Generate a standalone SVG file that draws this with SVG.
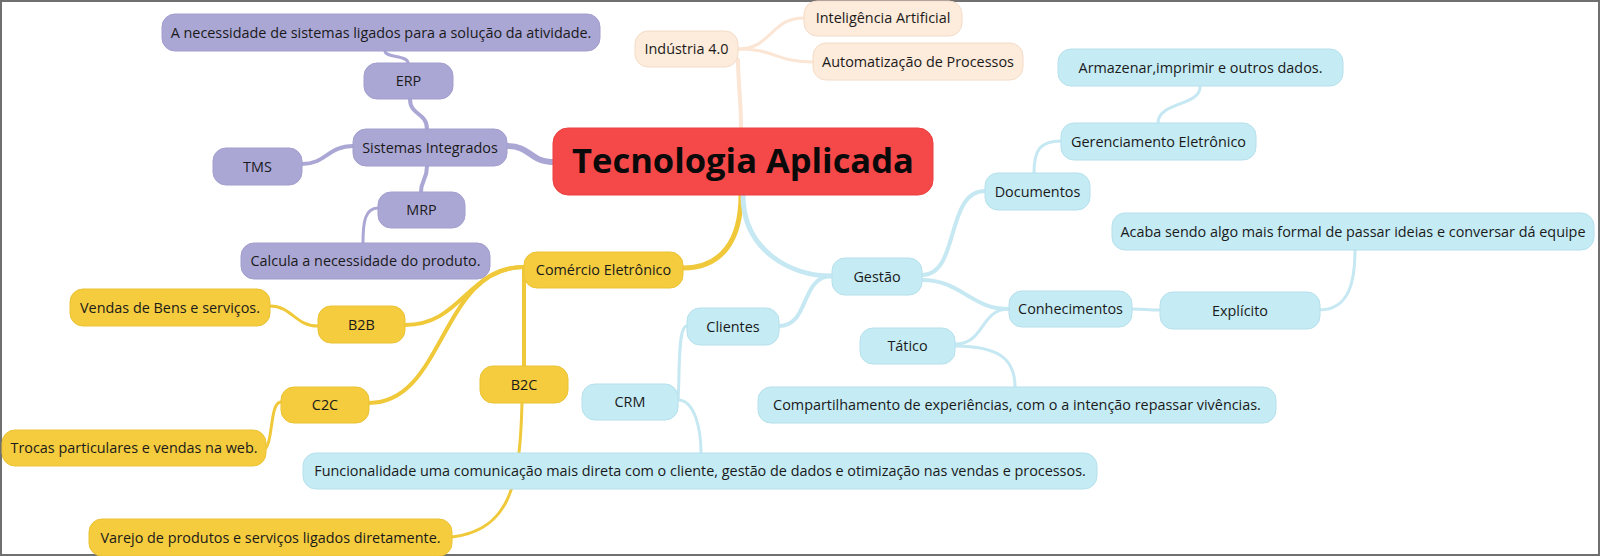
<svg xmlns="http://www.w3.org/2000/svg" width="1600" height="556" viewBox="0 0 1600 556">
<style>
text{font-family:"Open Sans","Noto Sans","DejaVu Sans",sans-serif;font-size:14.4px;fill:#1a1a1a;text-anchor:middle}
.p rect{fill:#aba7d5;stroke:#a29ecd;stroke-width:1}
.o rect{fill:#fdebdb;stroke:#f4dcc8;stroke-width:1}
.c rect{fill:#c5ecf5;stroke:#b5e0ec;stroke-width:1}
.y rect{fill:#f4cc3e;stroke:#eac235;stroke-width:1}
.r rect{fill:#f54849;stroke:#ea4040;stroke-width:1}
.r text{font-size:34.5px;font-weight:bold;fill:#0a0a0a}
#connectors path{fill:none;stroke-linecap:round}
.lp{stroke:#aba7d5}
.lo{stroke:#fbe5d4}
.lc{stroke:#c5e8f2}
.ly{stroke:#f0c93a}
</style>
<rect x="1" y="1" width="1598" height="554" fill="#ffffff" stroke="#707070" stroke-width="2"/>
<g id="connectors">
<path class="lp" stroke-width="6" d="M507,146 C532,146 528,162 555,162"/>
<path class="lp" stroke-width="4" d="M427,129 C427,112 410,116 410,99"/>
<path class="lp" stroke-width="3" d="M408,63 C408,55 385,58 385,51"/>
<path class="lp" stroke-width="4" d="M353,146 C328,146 326,164 302,164"/>
<path class="lp" stroke-width="4" d="M427,166 C427,180 421,180 421,192"/>
<path class="lp" stroke-width="3" d="M378,208 C365,208 363,222 363,243"/>
<path class="lo" stroke-width="4" d="M741,128 C741,100 738,80 738,60"/>
<path class="lo" stroke-width="3" d="M738,49 C772,49 770,18 804,18"/>
<path class="lo" stroke-width="3" d="M738,49 C776,49 776,62 813,62"/>
<path class="ly" stroke-width="5" d="M741,195 C741,240 722,268 683,268"/>
<path class="ly" stroke-width="4" d="M524,267 C468,267 462,325 405,325"/>
<path class="ly" stroke-width="4" d="M524,267 C440,267 445,403 369,403"/>
<path class="ly" stroke-width="4" d="M524,270 L524,366"/>
<path class="ly" stroke-width="3" d="M522,403 C520,480 512,530 452,537"/>
<path class="ly" stroke-width="3" d="M318,326 C295,326 292,306 270,306"/>
<path class="ly" stroke-width="3" d="M281,402 C270,402 273,440 266,448"/>
<path class="lc" stroke-width="5" d="M743,195 C743,250 790,276 832,276"/>
<path class="lc" stroke-width="4" d="M922,275 C960,275 945,191 985,191"/>
<path class="lc" stroke-width="4" d="M922,280 C962,280 970,309 1009,309"/>
<path class="lc" stroke-width="4" d="M832,276 C800,276 810,326 779,326"/>
<path class="lc" stroke-width="3" d="M1034,173 C1034,150 1040,141 1061,141"/>
<path class="lc" stroke-width="3" d="M1158,123 C1158,102 1200,106 1200,87"/>
<path class="lc" stroke-width="3" d="M1132,309 C1146,309 1146,310 1160,310"/>
<path class="lc" stroke-width="3" d="M1319,310 C1350,310 1355,280 1355,250"/>
<path class="lc" stroke-width="3" d="M1009,309 C980,309 985,344 955,344"/>
<path class="lc" stroke-width="3" d="M955,346 C1000,346 1015,360 1015,387"/>
<path class="lc" stroke-width="3" d="M687,326 C677,326 680,380 678,400"/>
<path class="lc" stroke-width="3" d="M678,400 C695,400 701,430 701,453"/>
</g>
<g id="root" class="r"><rect x="553" y="128" width="380" height="67" rx="15"/><text x="743" y="173">Tecnologia Aplicada</text></g>
<g id="n-necessidade" class="p"><rect x="162" y="14" width="438" height="37" rx="13"/><text x="381" y="38">A necessidade de sistemas ligados para a solução da atividade.</text></g>
<g id="n-erp" class="p"><rect x="364" y="63" width="89" height="36" rx="13"/><text x="408.5" y="86">ERP</text></g>
<g id="n-sistemas" class="p"><rect x="353" y="129" width="154" height="37" rx="13"/><text x="430" y="153">Sistemas Integrados</text></g>
<g id="n-tms" class="p"><rect x="213" y="148" width="89" height="37" rx="13"/><text x="257.5" y="172">TMS</text></g>
<g id="n-mrp" class="p"><rect x="378" y="192" width="87" height="36" rx="13"/><text x="421.5" y="215">MRP</text></g>
<g id="n-calcula" class="p"><rect x="241" y="243" width="249" height="36" rx="13"/><text x="365.5" y="266">Calcula a necessidade do produto.</text></g>
<g id="n-industria" class="o"><rect x="635" y="31" width="103" height="36" rx="13"/><text x="686.5" y="54">Indústria 4.0</text></g>
<g id="n-ia" class="o"><rect x="804" y="1" width="158" height="35" rx="13"/><text x="883" y="23">Inteligência Artificial</text></g>
<g id="n-automatizacao" class="o"><rect x="813" y="43" width="210" height="37" rx="13"/><text x="918" y="67">Automatização de Processos</text></g>
<g id="n-armazenar" class="c"><rect x="1058" y="49" width="285" height="37" rx="13"/><text x="1200.5" y="73">Armazenar,imprimir e outros dados.</text></g>
<g id="n-gerenciamento" class="c"><rect x="1061" y="123" width="195" height="37" rx="13"/><text x="1158.5" y="147">Gerenciamento Eletrônico</text></g>
<g id="n-documentos" class="c"><rect x="985" y="173" width="105" height="37" rx="13"/><text x="1037.5" y="197">Documentos</text></g>
<g id="n-acaba" class="c"><rect x="1112" y="213" width="482" height="37" rx="13"/><text x="1353" y="237">Acaba sendo algo mais formal de passar ideias e conversar dá equipe</text></g>
<g id="n-gestao" class="c"><rect x="832" y="258" width="90" height="37" rx="13"/><text x="877" y="282">Gestão</text></g>
<g id="n-conhecimentos" class="c"><rect x="1009" y="291" width="123" height="36" rx="13"/><text x="1070.5" y="314">Conhecimentos</text></g>
<g id="n-explicito" class="c"><rect x="1160" y="292" width="160" height="37" rx="13"/><text x="1240" y="316">Explícito</text></g>
<g id="n-clientes" class="c"><rect x="687" y="308" width="92" height="37" rx="13"/><text x="733" y="332">Clientes</text></g>
<g id="n-tatico" class="c"><rect x="860" y="328" width="95" height="36" rx="13"/><text x="907.5" y="351">Tático</text></g>
<g id="n-crm" class="c"><rect x="582" y="384" width="96" height="36" rx="13"/><text x="630" y="407">CRM</text></g>
<g id="n-compartilhamento" class="c"><rect x="758" y="387" width="518" height="36" rx="13"/><text x="1017" y="410">Compartilhamento de experiências, com o a intenção repassar vivências.</text></g>
<g id="n-funcionalidade" class="c"><rect x="303" y="453" width="794" height="36" rx="13"/><text x="700" y="476">Funcionalidade uma comunicação mais direta com o cliente, gestão de dados e otimização nas vendas e processos.</text></g>
<g id="n-comercio" class="y"><rect x="524" y="252" width="159" height="36" rx="13"/><text x="603.5" y="275">Comércio Eletrônico</text></g>
<g id="n-vendas" class="y"><rect x="70" y="289" width="200" height="37" rx="13"/><text x="170" y="313">Vendas de Bens e serviços.</text></g>
<g id="n-b2b" class="y"><rect x="318" y="306" width="87" height="37" rx="13"/><text x="361.5" y="330">B2B</text></g>
<g id="n-b2c" class="y"><rect x="480" y="366" width="88" height="37" rx="13"/><text x="524" y="390">B2C</text></g>
<g id="n-c2c" class="y"><rect x="281" y="387" width="88" height="36" rx="13"/><text x="325" y="410">C2C</text></g>
<g id="n-trocas" class="y"><rect x="2" y="430" width="264" height="36" rx="13"/><text x="134" y="453">Trocas particulares e vendas na web.</text></g>
<g id="n-varejo" class="y"><rect x="89" y="519" width="363" height="37" rx="13"/><text x="270.5" y="543">Varejo de produtos e serviços ligados diretamente.</text></g>
</svg>
